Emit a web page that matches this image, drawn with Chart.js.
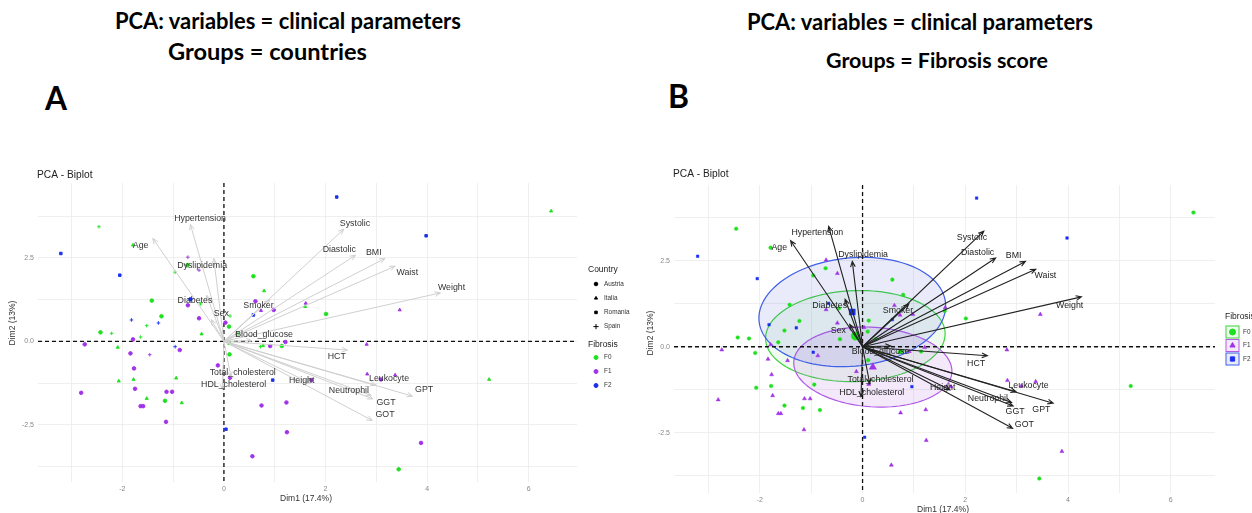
<!DOCTYPE html>
<html>
<head>
<meta charset="utf-8">
<script src="https://cdn.jsdelivr.net/npm/chart.js@4.4.0/dist/chart.umd.min.js"></script>
<style>
body{margin:0;width:1252px;height:513px;background:#fff;position:relative;overflow:hidden;font-family:Lato,"Liberation Sans",sans-serif}
.t{position:absolute;font-weight:bold;white-space:nowrap;color:#000;line-height:1}
.box{position:absolute;top:160px;height:353px}
</style>
</head>
<body>
<div class="t" data-x="115" data-y="22" data-w="346">PCA: variables = clinical parameters</div>
<div class="t" data-x="168" data-y="53" data-w="199">Groups = countries</div>
<div class="t" data-x="747" data-y="23" data-w="346">PCA: variables = clinical parameters</div>
<div class="t" data-x="826" data-y="62" data-w="222">Groups = Fibrosis score</div>
<div class="t" data-x="45" data-y="100" data-w="22">A</div>
<div class="t" data-x="668" data-y="99" data-w="21">B</div>
<div class="box" style="left:0;width:640px"><canvas id="chartA"></canvas></div>
<div class="box" style="left:640px;width:612px"><canvas id="chartB"></canvas></div>
<script>
// variables (arrow tips) and where their labels sit in each panel
var varNames = ["Hypertension", "Age", "Dyslipidemia", "Diabetes", "Sex", "Smoker", "Blood_glucose",
  "Systolic", "Diastolic", "BMI", "Waist", "Weight", "HCT", "Leukocyte", "GPT", "Neutrophil",
  "GGT", "GOT", "Height", "Total_cholesterol", "HDL_cholesterol"];
var varX = [-0.66, -1.4, -0.2, -0.34, -0.25, 0.9, 0.55, 2.36, 2.59, 3.17, 3.37, 4.26, 2.43, 2.99, 3.71, 2.9, 2.93, 2.92, 1.7, 0.14, -0.03];
var varY = [3.5, 3.08, 2.48, 1.38, 0.65, 1.24, 0.02, 3.36, 2.58, 2.48, 2.25, 1.45, -0.26, -1.31, -1.64, -1.62, -1.72, -2.37, -1.25, -1.07, -1.45];
var labAX = [-0.47, -1.64, -0.43, -0.57, -0.05, 0.68, 0.79, 2.58, 2.27, 2.95, 3.61, 4.48, 2.22, 3.25, 3.94, 2.46, 3.19, 3.17, 1.53, 0.37, 0.19];
var labAY = [3.68, 2.88, 2.28, 1.22, 0.82, 1.06, 0.19, 3.53, 2.76, 2.66, 2.07, 1.6, -0.46, -1.12, -1.44, -1.47, -1.82, -2.19, -1.16, -0.93, -1.28];
var labBX = [-0.88, -1.62, 0.01, -0.64, -0.47, 0.69, 0.35, 2.13, 2.24, 2.94, 3.56, 4.03, 2.21, 3.23, 3.48, 2.44, 2.97, 3.15, 1.56, 0.35, 0.18];
var labBY = [3.33, 2.88, 2.69, 1.19, 0.47, 1.05, -0.15, 3.17, 2.74, 2.65, 2.06, 1.2, -0.48, -1.12, -1.84, -1.5, -1.87, -2.25, -1.18, -0.94, -1.33];

// individuals: fibrosis 0=F0 1=F1 2=F2, country 0=Austria 1=Italia 2=Romania 3=Spain
var ptX = [-2.46, -3.21, -1.79, -2.05, -0.71, -0.49, -0.96, 0.58, 0.79, -1.42, -1.23, 0.62, 0.73, 0.98, 0.58, 1.61, 1.6, -0.66, -0.71, -0.46,
  -0.49, 0.12, 0.03, 0.1, -0.44, -1.82, -1.29, -1.52, -2.43, -2.21, -1.64, -1.79, 0.26, -2.74, -2.09, -1.84, -1.46, -0.96, -0.87, 0.1,
  0.11, 0.77, 0.72, 0.91, 1.14, 1.21, -1.77, -1.75, -2.07, -1.78, -2.81, -1.52, -1.64, -1.59, -1.13, -1.02, -0.94, -1.16, -0.83, -1.14,
  -0.12, 0.12, 0.04, 0.56, 0.74, 0.96, 1.23, 1.24, 1.72, 2.81, 2.82, 3.09, 3.37, 5.22, 3.88, 3.44, 2.22, 6.44, 3.98, 2.01, 3.46, -0.72];
var ptY = [3.43, 2.63, 2.88, 1.98, 2.52, 2.13, 2.07, 1.95, 1.51, 1.22, 0.75, 1.2, 0.92, 0.94, 0.79, 1.14, 1.04, 1.26, 1.08, 1.12,
  0.69, 0.76, 0.56, 0.44, 0.22, 0.64, 0.55, 0.47, 0.27, 0.24, 0.13, 0.06, 0.22, -0.09, -0.18, -0.36, -0.4, -0.16, -0.26, -0.05,
  -0.39, -0.13, -0.16, -0.14, -0.14, -0.02, -0.81, -1.42, -1.19, -1.14, -1.54, -1.71, -1.94, -1.94, -1.51, -1.51, -1.1, -1.78, -1.84, -2.41,
  -0.72, -1.09, -2.63, -3.44, -1.92, -1.16, -1.83, -2.72, -1.16, -0.09, -0.98, -1.14, -1.01, -1.14, -3.04, -3.83, 4.32, 3.9, 3.16, 0.82, 0.94, 2.28];
var ptFib = [0, 2, 0, 2, 1, 1, 0, 0, 0, 0, 0, 1, 1, 1, 2, 1, 0, 2, 1, 0,
  1, 0, 1, 0, 0, 2, 2, 0, 0, 0, 0, 1, 0, 1, 0, 1, 1, 2, 1, 0,
  0, 0, 0, 1, 0, 1, 1, 1, 0, 0, 1, 0, 1, 1, 1, 1, 0, 0, 0, 1,
  1, 1, 2, 1, 1, 2, 1, 1, 1, 1, 1, 1, 1, 0, 1, 0, 2, 0, 2, 0, 1, 0];
var ptCtry = [3, 2, 1, 2, 3, 3, 3, 0, 1, 0, 0, 0, 1, 0, 2, 1, 1, 0, 0, 3,
  0, 3, 0, 0, 1, 3, 3, 3, 0, 3, 3, 0, 0, 0, 1, 0, 3, 3, 0, 0,
  0, 1, 3, 0, 0, 0, 0, 0, 1, 1, 0, 1, 0, 0, 0, 0, 1, 0, 1, 0,
  0, 0, 2, 0, 0, 2, 0, 0, 0, 1, 1, 0, 1, 1, 0, 0, 2, 1, 2, 0, 1, 0];

// group means and concentration ellipses (panel B)
var fibNames = ["F0", "F1", "F2"];
var ellCx = [-0.14, 0.2, -0.2];
var ellCy = [0.31, -0.59, 1.01];
var ellA = [1.75, 1.55, 1.85];
var ellB = [1.32, 1.15, 1.55];
var ellAng = [5, -10, 20];
var countries = ["Austria", "Italia", "Romania", "Spain"];

var fibColor = ["#1ee01e", "#a033e8", "#1a2ff0"];
var ellStroke = ["#3fd23f", "#b25ae6", "#3f5fe6"];
var ellFill = ["rgba(110,215,110,0.10)", "rgba(175,110,230,0.15)", "rgba(70,90,215,0.12)"];
var ctryStyle = ["circle", "triangle", "rect", "cross"];
var fibStyle = ["circle", "triangle", "rect"];
var FONT = "'Liberation Sans', Arial, sans-serif";

document.querySelectorAll(".t").forEach(function(el) {
  el.style.fontSize = "20px";
  var fs = 20 * (+el.dataset.w) / el.getBoundingClientRect().width;
  el.style.fontSize = fs + "px";
  el.style.left = el.dataset.x + "px";
  el.style.top = (+el.dataset.y - fs * 0.55) + "px";
});

function groupData(f) {
  var d = [];
  ptX.forEach(function(x, i) { if (ptFib[i] === f) d.push({x: x, y: ptY[i]}); });
  return d;
}
function groupCtry(f) {
  var s = [];
  ptX.forEach(function(x, i) { if (ptFib[i] === f) s.push(ctryStyle[ptCtry[i]]); });
  return s;
}

var biplot = {
  id: "biplot",
  beforeDatasetsDraw: function(chart, args, o) {
    var ctx = chart.ctx, a = chart.chartArea, x = chart.scales.x, y = chart.scales.y;
    ctx.save();
    if (o.ellipses) {
      for (var g = 0; g < 3; g++) {
        var th = ellAng[g] * Math.PI / 180;
        ctx.beginPath();
        for (var k = 0; k <= 120; k++) {
          var t = k / 120 * 2 * Math.PI;
          var dx = ellA[g] * Math.cos(t) * Math.cos(th) - ellB[g] * Math.sin(t) * Math.sin(th);
          var dy = ellA[g] * Math.cos(t) * Math.sin(th) + ellB[g] * Math.sin(t) * Math.cos(th);
          var px = x.getPixelForValue(ellCx[g] + dx), py = y.getPixelForValue(ellCy[g] + dy);
          if (k === 0) ctx.moveTo(px, py); else ctx.lineTo(px, py);
        }
        ctx.closePath();
        ctx.fillStyle = ellFill[g];
        ctx.fill();
        ctx.strokeStyle = ellStroke[g];
        ctx.lineWidth = 1.2;
        ctx.stroke();
      }
    }
    ctx.setLineDash([4, 3]);
    ctx.strokeStyle = "#111";
    ctx.lineWidth = 1.3;
    ctx.beginPath();
    var x0 = x.getPixelForValue(0), y0 = y.getPixelForValue(0);
    ctx.moveTo(x0, a.top); ctx.lineTo(x0, a.bottom);
    ctx.moveTo(a.left, y0); ctx.lineTo(a.right, y0);
    ctx.stroke();
    ctx.restore();
  },
  afterDatasetsDraw: function(chart, args, o) {
    var ctx = chart.ctx, x = chart.scales.x, y = chart.scales.y;
    var x0 = x.getPixelForValue(0), y0 = y.getPixelForValue(0);
    ctx.save();
    ctx.strokeStyle = o.arrowColor;
    ctx.lineWidth = o.arrowWidth;
    varNames.forEach(function(n, i) {
      var px = x.getPixelForValue(varX[i]), py = y.getPixelForValue(varY[i]);
      var ang = Math.atan2(py - y0, px - x0);
      ctx.beginPath();
      ctx.moveTo(x0, y0); ctx.lineTo(px, py);
      ctx.moveTo(px - 6 * Math.cos(ang - 0.4), py - 6 * Math.sin(ang - 0.4));
      ctx.lineTo(px, py);
      ctx.lineTo(px - 6 * Math.cos(ang + 0.4), py - 6 * Math.sin(ang + 0.4));
      ctx.stroke();
    });
    ctx.fillStyle = o.labelColor;
    ctx.font = "8.8px " + FONT;
    ctx.textAlign = "center";
    ctx.textBaseline = "middle";
    varNames.forEach(function(n, i) {
      ctx.fillText(n, x.getPixelForValue(o.labX[i]), y.getPixelForValue(o.labY[i]));
    });
    ctx.restore();
  },
  afterDraw: function(chart, args, o) {
    var ctx = chart.ctx;
    var drawPoint = Chart.helpers.drawPoint;
    ctx.save();
    ctx.fillStyle = "#222";
    ctx.textBaseline = "middle";
    ctx.font = "10.2px " + FONT;
    ctx.fillText("PCA - Biplot", o.title[0], o.title[1]);
    ctx.fillStyle = "#333";
    ctx.font = "8.5px " + FONT;
    ctx.textAlign = "center";
    ctx.fillText("Dim1 (17.4%)", o.xTitle[0], o.xTitle[1]);
    ctx.save();
    ctx.translate(o.yTitle[0], o.yTitle[1]);
    ctx.rotate(-Math.PI / 2);
    ctx.fillText("Dim2 (13%)", 0, 0);
    ctx.restore();
    ctx.textAlign = "left";
    var L = o.legend;
    if (L.country) {
      ctx.fillStyle = "#222";
      ctx.font = "8.5px " + FONT;
      ctx.fillText("Country", L.x, L.countryY);
      ctx.font = "6.4px " + FONT;
      countries.forEach(function(c, i) {
        var yy = L.countryY + 14 + i * 14.2;
        ctx.fillStyle = "#000"; ctx.strokeStyle = "#000";
        drawPoint(ctx, {pointStyle: ctryStyle[i], radius: i === 3 ? 2.6 : 1.8, borderWidth: 0.8, rotation: 0}, L.x + 8, yy);
        ctx.fillStyle = "#333";
        ctx.fillText(c, L.x + 16, yy);
      });
      ctx.font = "8.5px " + FONT;
      ctx.fillStyle = "#222";
      ctx.fillText("Fibrosis", L.x, L.fibY);
      ctx.font = "6.4px " + FONT;
      fibNames.forEach(function(f, i) {
        var yy = L.fibY + 12.5 + i * 14;
        ctx.fillStyle = fibColor[i]; ctx.strokeStyle = fibColor[i];
        drawPoint(ctx, {pointStyle: "circle", radius: 2, borderWidth: 0.5, rotation: 0}, L.x + 8, yy);
        ctx.fillStyle = "#333";
        ctx.fillText(f, L.x + 16, yy);
      });
    } else {
      ctx.fillStyle = "#222";
      ctx.font = "8.5px " + FONT;
      ctx.fillText("Fibrosis", L.x, L.fibY);
      ctx.font = "6.4px " + FONT;
      fibNames.forEach(function(f, i) {
        var yy = L.fibY + 15 + i * 13.5;
        ctx.fillStyle = ellFill[i];
        ctx.fillRect(L.x + 1, yy - 6, 13, 12);
        ctx.strokeStyle = ellStroke[i];
        ctx.lineWidth = 1;
        ctx.strokeRect(L.x + 1, yy - 6, 13, 12);
        ctx.fillStyle = fibColor[i]; ctx.strokeStyle = fibColor[i];
        drawPoint(ctx, {pointStyle: fibStyle[i], radius: 3, borderWidth: 0.5, rotation: 0}, L.x + 7.5, yy);
        ctx.fillStyle = "#333";
        ctx.fillText(f, L.x + 18, yy);
      });
    }
    ctx.restore();
  }
};

function axes(xmin, xmax, ymin, ymax, yw, xh) {
  var tickFont = {size: 7, family: FONT};
  return {
    x: {
      type: "linear", min: xmin, max: xmax,
      border: {display: false},
      grid: {color: "#ebebeb", lineWidth: 0.8, drawTicks: false},
      ticks: {stepSize: 1, includeBounds: false, autoSkip: false, maxRotation: 0, padding: 3, color: "#888", font: tickFont,
        callback: function(v) { return v % 2 === 0 ? String(v) : ""; }},
      afterFit: function(s) { s.height = xh; }
    },
    y: {
      type: "linear", min: ymin, max: ymax,
      border: {display: false},
      grid: {color: "#ebebeb", lineWidth: 0.8, drawTicks: false},
      ticks: {stepSize: 1.25, includeBounds: false, autoSkip: false, padding: 4, color: "#888", font: tickFont,
        callback: function(v) { return Math.abs(v % 2.5) < 1e-9 ? v.toFixed(1) : ""; }},
      afterFit: function(s) { s.width = yw; }
    }
  };
}

var dsA = [0, 1, 2].map(function(f) {
  return {
    data: groupData(f),
    pointStyle: groupCtry(f),
    pointRadius: 1.8,
    pointBorderWidth: 0.9,
    backgroundColor: fibColor[f],
    borderColor: fibColor[f],
    showLine: false
  };
});

new Chart(document.getElementById("chartA"), {
  type: "scatter",
  data: {datasets: dsA},
  options: {
    responsive: true,
    maintainAspectRatio: false,
    animation: false,
    events: [],
    layout: {padding: {top: 23, right: 63, left: 0, bottom: 0}},
    scales: axes(-3.66, 6.95, -4.21, 4.74, 38, 31),
    plugins: {
      legend: {display: false},
      tooltip: {enabled: false},
      biplot: {
        ellipses: false,
        arrowColor: "#cfcfcf", arrowWidth: 1, labelColor: "#333",
        labX: labAX, labY: labAY,
        title: [37, 15], xTitle: [306, 339], yTitle: [13, 163],
        legend: {country: true, x: 588, countryY: 110, fibY: 185}
      }
    }
  },
  plugins: [biplot]
});

var dsB = [0, 1, 2].map(function(f) {
  return {
    data: groupData(f),
    pointStyle: fibStyle[f],
    pointRadius: f === 1 ? 2.3 : 1.8,
    pointBorderWidth: 0.5,
    backgroundColor: fibColor[f],
    borderColor: fibColor[f],
    showLine: false
  };
});
dsB.push({
  data: ellCx.map(function(cx, i) { return {x: cx, y: ellCy[i]}; }),
  pointStyle: fibStyle,
  pointRadius: 4.2,
  pointBorderWidth: 0.5,
  backgroundColor: fibColor,
  borderColor: fibColor,
  showLine: false
});

new Chart(document.getElementById("chartB"), {
  type: "scatter",
  data: {datasets: dsB},
  options: {
    responsive: true,
    maintainAspectRatio: false,
    animation: false,
    events: [],
    layout: {padding: {top: 25, right: 37, left: 0, bottom: 0}},
    scales: axes(-3.67, 6.86, -4.25, 4.70, 34, 20),
    plugins: {
      legend: {display: false},
      tooltip: {enabled: false},
      biplot: {
        ellipses: true,
        arrowColor: "#222", arrowWidth: 1.1, labelColor: "#222",
        labX: labBX, labY: labBY,
        title: [33, 14], xTitle: [303, 350], yTitle: [11, 173],
        legend: {country: false, x: 585, fibY: 157}
      }
    }
  },
  plugins: [biplot]
});
</script>
</body>
</html>
